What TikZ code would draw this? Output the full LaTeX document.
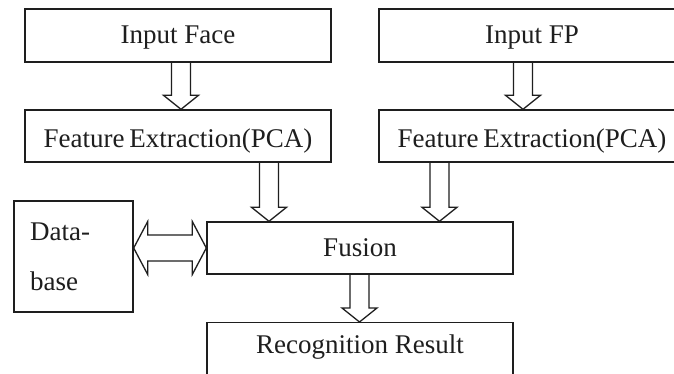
\documentclass[tikz,border=0pt]{standalone}
\usepackage{fontspec}
\setmainfont{Liberation Serif}
\usetikzlibrary{calc}
\definecolor{ink}{HTML}{1E1E1E}
\newcommand\bdown[3]{%
  \draw[blk] let \p1=(#1.south), \p2=(#2.north) in
    (#3pt-9.5pt,\y1) -- (#3pt-9.5pt,\y2+14pt) -- (#3pt-17.5pt,\y2+14pt) -- (#3pt,\y2)
    -- (#3pt+17.5pt,\y2+14pt) -- (#3pt+9.5pt,\y2+14pt) -- (#3pt+9.5pt,\y1);}
\begin{document}
\begin{tikzpicture}[x=1pt,y=-1pt,
  box/.style={draw=ink,line width=1.4pt,rectangle,inner sep=0pt,minimum width=306pt,
    minimum height=53pt,text height=17pt,text depth=0pt,text=ink,
    font=\fontsize{27}{31}\selectfont},
  lbl/.style={inner sep=0pt,text=ink,font=\fontsize{27}{31}\selectfont},
  blk/.style={draw=ink,line width=1.3pt,line join=miter}]
\fill[white] (0,0) rectangle (674,374);
\useasboundingbox (0,0) rectangle (674,374);
\clip (0,0) rectangle (674,374);
\node[box] (face) at (178,35.5) {Input Face};
\node[box,minimum height=52pt,text height=24pt] (fe1) at (178,136) {Feature\hspace{-2pt} Extraction(PCA)};
\node[box] (fp) at (532,35.5) {Input FP};
\node[box,minimum height=52pt,text height=24pt] (fe2) at (532,136) {Feature\hspace{-2pt} Extraction(PCA)};
\node[box,minimum height=52pt,text height=16pt] (fusion) at (360,248) {Fusion};
\node[box,minimum height=60pt,anchor=north] (rec) at (360,322) {};
\node[lbl,anchor=base] (rectext) at (360,353) {Recognition Result};
\node[box,minimum width=119pt,minimum height=111pt] (db) at (73.5,256.5) {};
\node[lbl,anchor=base west] (dbt1) at (30,240) {Data-};
\node[lbl,anchor=base west] (dbt2) at (30,290) {base};
\bdown{face}{fe1}{181}
\bdown{fp}{fe2}{523}
\bdown{fe1}{fusion}{269}
\bdown{fe2}{fusion}{439.5}
\bdown{fusion}{rec}{359.5}
\draw[blk] let \p1=(db.east), \p2=(fusion.west) in
  (\x1,\y2) -- (\x1+14pt,\y2+26.5pt) -- (\x1+14pt,\y2+13pt) -- (\x2-14pt,\y2+13pt)
  -- (\x2-14pt,\y2+26.5pt) -- (\x2,\y2) -- (\x2-14pt,\y2-26.5pt) -- (\x2-14pt,\y2-13pt)
  -- (\x1+14pt,\y2-13pt) -- (\x1+14pt,\y2-26.5pt) -- cycle;
\end{tikzpicture}
\end{document}
